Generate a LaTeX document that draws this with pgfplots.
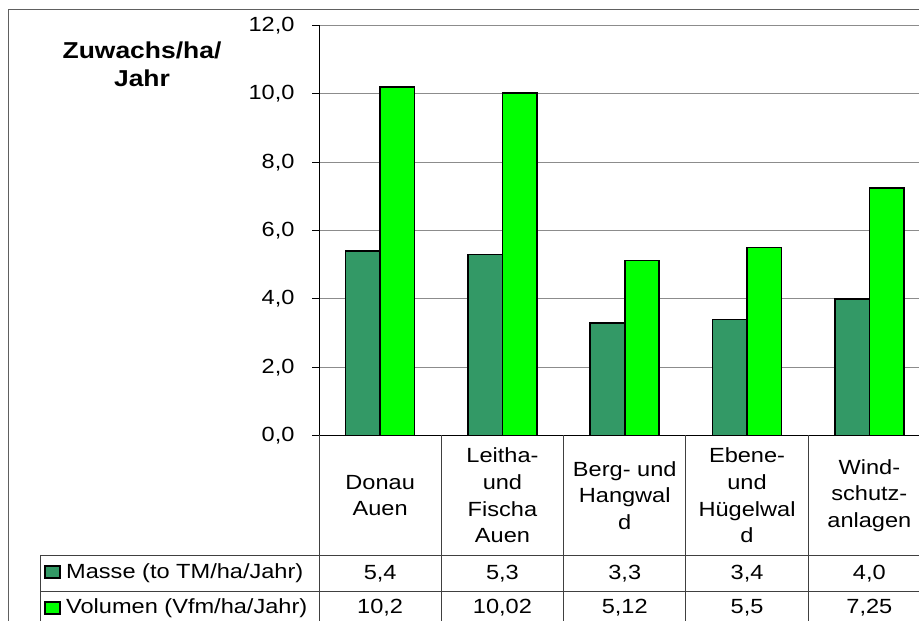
\documentclass[border=0pt]{standalone}
\usepackage{pgfplots}
\pgfplotsset{compat=1.18}
\usepackage{fontspec}
\setmainfont{Liberation Sans}[FakeStretch=1.15]
\definecolor{masse}{RGB}{51,153,102}
\definecolor{volumen}{RGB}{0,255,0}
\definecolor{frame}{RGB}{96,96,96}
\newcommand\fs{\fontsize{20.5}{26.7}\selectfont}
\begin{document}
\begin{tikzpicture}[x=1pt,y=1pt]
\path[use as bounding box] (0,0) rectangle (919,621);
\clip (0,0) rectangle (919,621);
% outer frame
\draw[frame, line width=1pt] (8,-20) -- (8,611) -- (940,611);
\begin{axis}[
  at={(319pt,185.5pt)}, anchor=south west,
  scale only axis, width=611.5pt, height=410pt,
  xmin=-0.5, xmax=4.5, ymin=0, ymax=12,
  ytick={0,2,...,12},
  xtick={0,1,2,3,4},
  xticklabels={{Donau\\Auen},{Leitha-\\und\\Fischa\\Auen},{Berg- und\\Hangwal\\d},{Ebene-\\und\\Hügelwal\\d},{Wind-\\schutz-\\anlagen}},
  xticklabel style={align=center, anchor=center, yshift=-53pt, font=\fs},
  yticklabel style={font=\fs, xshift=-14pt},
  /pgf/number format/.cd, fixed, fixed zerofill, precision=1, use comma, assume math mode=true,
  /pgfplots/.cd,
  axis x line*=bottom, axis y line*=left,
  axis line style={-, black, line width=1pt},
  major x tick style={draw=none},
  major y tick style={black, line width=1pt},
  tick align=outside, major tick length=7pt,
  ymajorgrids, major grid style={gray!90, line width=1.2pt},
  clip=false,
]
\addplot[ybar, bar width=34.5pt, bar shift=-17.25pt, fill=masse, draw=black, line width=1.6pt]
  coordinates {(0,5.4) (1,5.3) (2,3.3) (3,3.4) (4,4.0)};
\addplot[ybar, bar width=34.5pt, bar shift=17.25pt, fill=volumen, draw=black, line width=1.6pt]
  coordinates {(0,10.2) (1,10.02) (2,5.12) (3,5.5) (4,7.25)};
% table grid
\pgfplotsinvokeforeach{-0.5,0.5,1.5,2.5,3.5,4.5}{
  \draw[black!75, line width=0.9pt] (axis cs:#1,0) -- ++(0pt,-200pt);
}
% table values
\node[font=\fs] at (axis cs:0,0) [yshift=-138.5pt] {5,4};
\node[font=\fs] at (axis cs:1,0) [yshift=-138.5pt] {5,3};
\node[font=\fs] at (axis cs:2,0) [yshift=-138.5pt] {3,3};
\node[font=\fs] at (axis cs:3,0) [yshift=-138.5pt] {3,4};
\node[font=\fs] at (axis cs:4,0) [yshift=-138.5pt] {4,0};
\node[font=\fs] at (axis cs:0,0) [yshift=-172.5pt] {10,2};
\node[font=\fs] at (axis cs:1,0) [yshift=-172.5pt] {10,02};
\node[font=\fs] at (axis cs:2,0) [yshift=-172.5pt] {5,12};
\node[font=\fs] at (axis cs:3,0) [yshift=-172.5pt] {5,5};
\node[font=\fs] at (axis cs:4,0) [yshift=-172.5pt] {7,25};
\end{axis}
\draw[black!75, line width=0.9pt] (40,66) -- (940,66);
\draw[black!75, line width=0.9pt] (40,30) -- (940,30);
\draw[black!75, line width=0.9pt] (40,66) -- (40,-20);
% title
\node[font=\fontsize{23}{28}\selectfont\bfseries, align=center] at (142,557) {Zuwachs/ha/\\Jahr};
% legend keys
\draw[fill=masse, line width=1.1pt] (45,43) rectangle (60,55);
\node[font=\fs, anchor=west, inner sep=0pt] at (66,47.5) {Masse (to TM/ha/Jahr)};
\draw[fill=volumen, line width=1.1pt] (45,7) rectangle (60,19);
\node[font=\fs, anchor=west, inner sep=0pt] at (66,12.5) {Volumen (Vfm/ha/Jahr)};
\end{tikzpicture}
\end{document}
